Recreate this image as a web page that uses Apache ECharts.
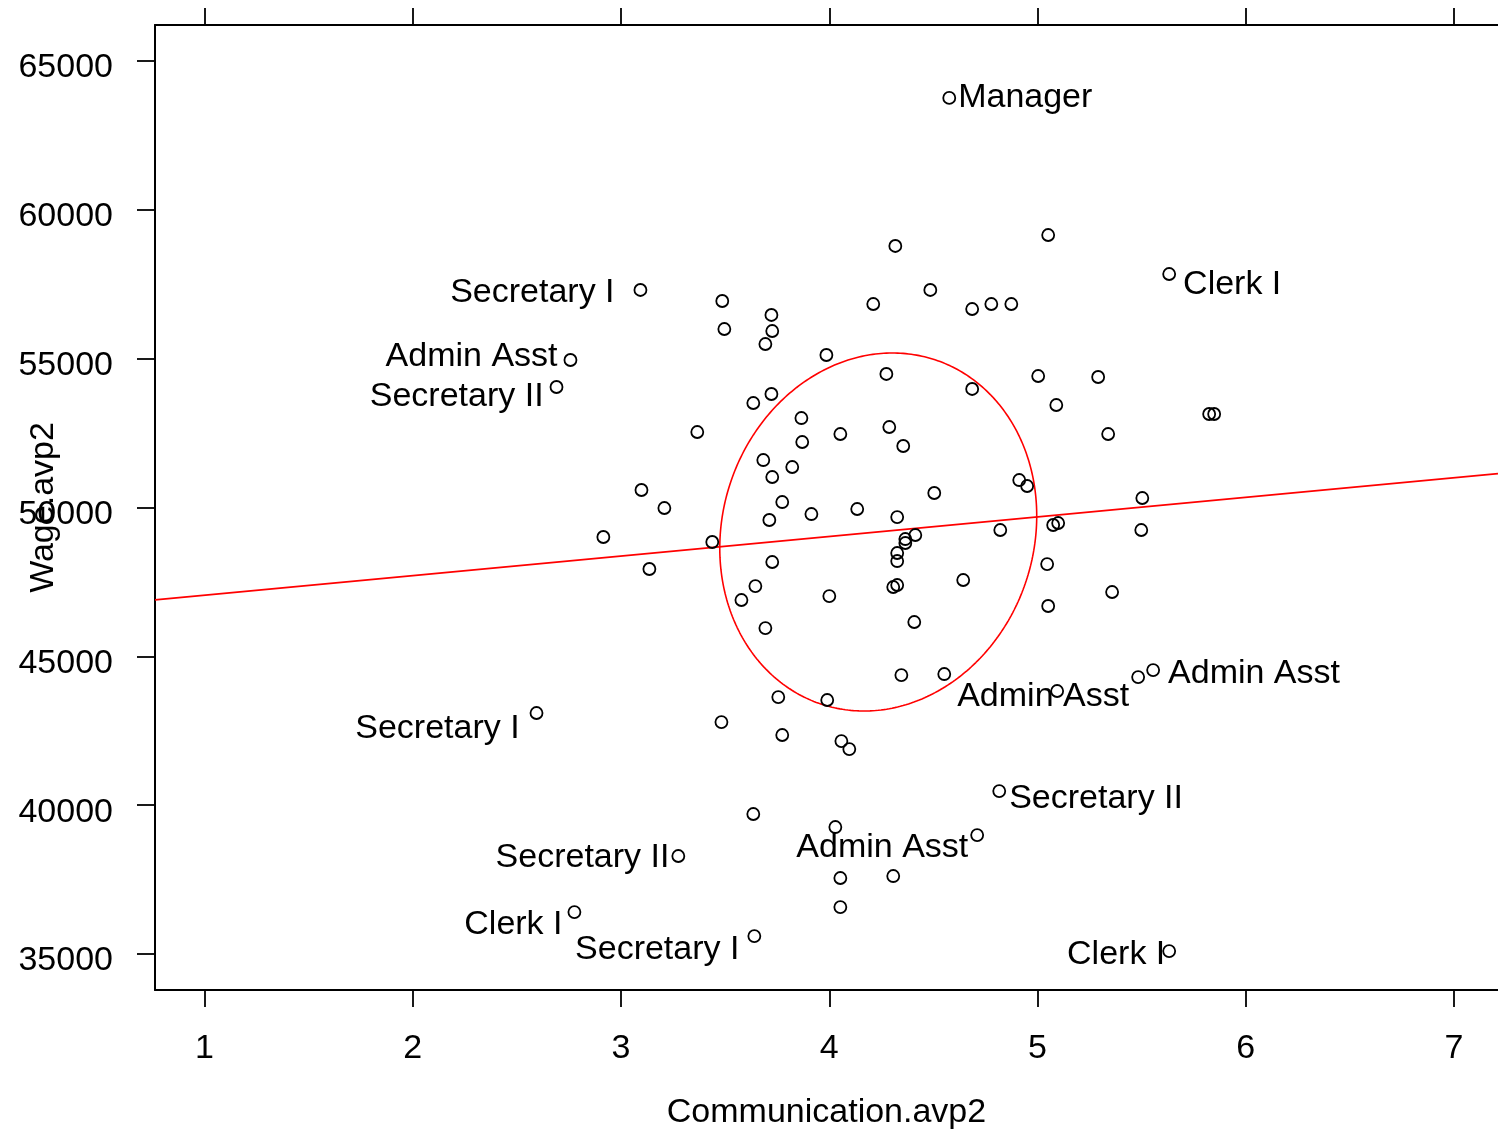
<!DOCTYPE html>
<html>
<head>
<meta charset="utf-8">
<script src="https://cdn.jsdelivr.net/npm/echarts@6/dist/echarts.min.js"></script>
<style>
html,body{margin:0;padding:0;background:#fff;}
#chart{width:1498px;height:1136px;}
</style>
</head>
<body>
<div id="chart"></div>
<script>
// ---- data ----
const xVals = [
  4.576, 5.632, 3.093, 2.757, 2.690, 5.555, 5.094, 2.594, 4.816, 4.710, 3.275, 2.776, 3.640, 5.632,
  4.317, 5.051, 3.486, 3.496, 3.722, 3.726, 3.693, 4.211, 4.485, 4.686, 4.778, 4.874,
  3.986, 4.274, 5.003, 5.291, 4.686, 5.090, 3.722, 3.635, 3.866, 3.366, 4.288, 4.053,
  5.339, 3.870, 4.355, 5.824, 5.848, 3.683, 3.822, 3.726, 3.098, 4.912, 4.950, 4.504,
  5.503, 3.774, 3.208, 4.134, 3.914, 3.712, 4.326, 5.075, 5.099, 5.498, 4.821, 2.915,
  3.438, 4.365, 4.365, 4.413, 4.326, 4.326, 3.726, 3.136, 5.046, 4.643, 3.645, 4.307,
  4.326, 3.578, 4.000, 5.051, 5.358, 4.408, 3.693, 4.346, 4.552, 3.755, 3.990, 5.483,
  3.482, 3.774, 4.058, 4.096, 3.635, 4.029, 4.053, 4.307, 4.053
];
const yVals = [
  63759, 57844, 57307, 54955, 54048, 44540, 43835, 43096, 40475, 38997, 38292, 36410, 35604, 35100,
  58785, 59154, 56937, 55996, 56467, 55929, 55492, 56836, 57307, 56668, 56836, 56836,
  55123, 54485, 54417, 54384, 53981, 53443, 53813, 53510, 53006, 52536, 52704, 52469,
  52469, 52200, 52066, 53141, 53141, 51595, 51360, 51024, 50588, 50923, 50722, 50487,
  50319, 50184, 49983, 49949, 49781, 49580, 49680, 49412, 49479, 49244, 49244, 49009,
  48841, 48941, 48807, 49076, 48471, 48202, 48169, 47934, 48101, 47564, 47362, 47329,
  47396, 46892, 47026, 46691, 47161, 46153, 45951, 44372, 44406, 43633, 43533, 44305,
  42793, 42357, 42155, 41886, 39703, 39266, 37553, 37620, 36578
];
const pointNames = [
  'Manager', 'Clerk I', 'Secretary I', 'Admin Asst', 'Secretary II', 'Admin Asst', 'Admin Asst',
  'Secretary I', 'Secretary II', 'Admin Asst', 'Secretary II', 'Clerk I', 'Secretary I', 'Clerk I'
];
const xTicks = [1, 2, 3, 4, 5, 6, 7];
const yTicks = [35000, 40000, 45000, 50000, 55000, 60000, 65000];
const xTitle = 'Communication.avp2';
const yTitle = 'Wage.avp2';
// fitted regression line
const regIntercept = 46394;
const regSlope = 658;
// data ellipse
const ellCenter = [4.235, 49177];
const ellSpread = [0.761, 6013];
const ellCorr = 0.09;

// ---- layout / style ----
const xMin = 0.762, xMax = 7.211, yMin = 33791, yMax = 66209;
const FONT = '"Liberation Sans", Arial, Helvetica, sans-serif';
const FS = 34;
// label placement (style): [side, distance, dx, dy]
const labelPlace = [
  ['right', 2, 0, 0], ['right', 7, 0, 11], ['left', 19, 0, 3], ['left', 6, 0, -3],
  ['left', 6, 0, 10], ['right', 8, 0, 4], ['inside', 0, -14, 6], ['left', 10, 0, 16],
  ['right', 3, 0, 8], ['left', 2, 0, 13], ['left', 2, 0, 2], ['left', 5, 0, 13],
  ['left', 8, 0, 14], ['left', -3, 0, 4]
];

const pts = xVals.map((x, i) => {
  const item = { value: [x, yVals[i]] };
  if (i < pointNames.length && pointNames[i]) {
    const p = labelPlace[i];
    item.label = {
      show: true, formatter: pointNames[i], position: p[0], distance: p[1],
      offset: [p[2], p[3]], color: '#000', fontSize: FS, fontFamily: FONT
    };
  }
  return item;
});

const ellipse = [];
for (let k = 0; k <= 360; k++) {
  const t = k * Math.PI / 180;
  ellipse.push([
    ellCenter[0] + ellSpread[0] * Math.cos(t),
    ellCenter[1] + ellSpread[1] * (ellCorr * Math.cos(t) + Math.sqrt(1 - ellCorr * ellCorr) * Math.sin(t))
  ]);
}
const regLine = [[xMin, regIntercept + regSlope * xMin], [xMax, regIntercept + regSlope * xMax]];

const chart = echarts.init(document.getElementById('chart'), null, { renderer: 'canvas' });
const axisLine = { show: true, lineStyle: { color: '#000', width: 2 } };
const tickStyle = { color: '#000', width: 1.8 };
chart.setOption({
  animation: false,
  backgroundColor: '#fff',
  grid: { left: 155, top: 25, right: 0, bottom: 146, containLabel: false, outerBoundsMode: 'none' },
  xAxis: [{
    type: 'value', position: 'bottom', min: xMin, max: xMax,
    axisLine: axisLine,
    axisTick: { show: true, length: 17, inside: false, customValues: xTicks, lineStyle: tickStyle },
    axisLabel: { show: true, customValues: xTicks, margin: 42, color: '#000', fontSize: FS, fontFamily: FONT },
    splitLine: { show: false },
    name: xTitle, nameLocation: 'middle', nameGap: 106, nameMoveOverlap: false,
    nameTextStyle: { color: '#000', fontSize: FS, fontFamily: FONT }
  }, {
    type: 'value', position: 'top', min: xMin, max: xMax,
    axisLine: axisLine,
    axisTick: { show: true, length: 17, inside: false, customValues: xTicks, lineStyle: tickStyle },
    axisLabel: { show: false },
    splitLine: { show: false }
  }],
  yAxis: [{
    type: 'value', position: 'left', min: yMin, max: yMax,
    axisLine: axisLine,
    axisTick: { show: true, length: 18, inside: false, customValues: yTicks, lineStyle: tickStyle },
    axisLabel: { show: true, customValues: yTicks, margin: 42, color: '#000', fontSize: FS, fontFamily: FONT,
      verticalAlign: 'top', lineHeight: 14, formatter: v => String(Math.round(v)) },
    splitLine: { show: false },
    name: yTitle, nameLocation: 'middle', nameGap: 94, nameMoveOverlap: false,
    nameTextStyle: { color: '#000', fontSize: FS, fontFamily: FONT }
  }],
  series: [{
    type: 'line', data: regLine, showSymbol: false, symbol: 'none', silent: true,
    lineStyle: { color: '#ff0000', width: 1.6 }, clip: true, z: 3
  }, {
    type: 'line', data: ellipse, showSymbol: false, symbol: 'none', silent: true, smooth: false,
    lineStyle: { color: '#ff0000', width: 1.6 }, clip: true, z: 3
  }, {
    type: 'scatter', data: pts, symbol: 'circle', symbolSize: 12,
    label: { color: '#000' },
    itemStyle: { color: 'rgba(0,0,0,0)', borderColor: '#000', borderWidth: 1.8, opacity: 1 },
    z: 4
  }]
});
</script>
</body>
</html>
